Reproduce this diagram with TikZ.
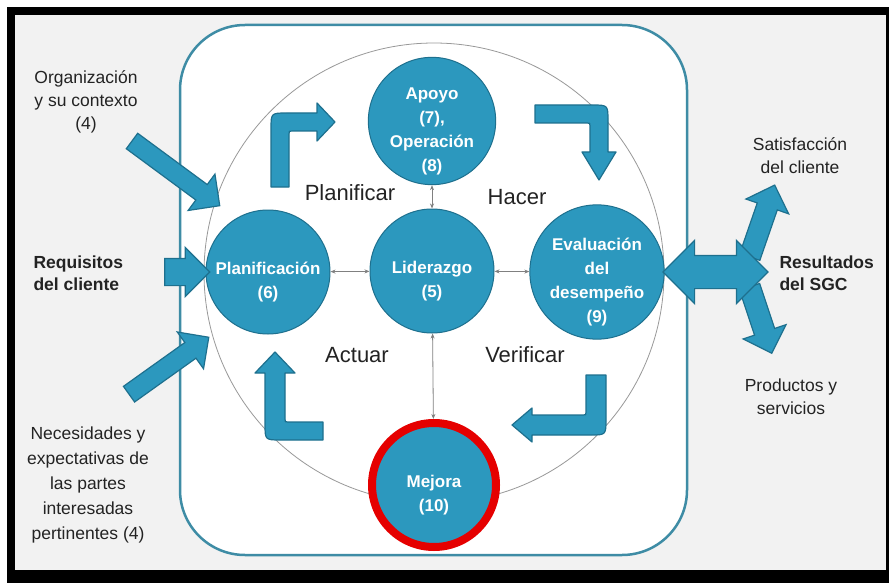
\documentclass[tikz,border=0pt]{standalone}
\usepackage{fontspec}
\setmainfont{Liberation Sans}
\usetikzlibrary{positioning,shapes.arrows,arrows.meta}

\definecolor{pdca}{RGB}{44,152,190}
\definecolor{pdcaedge}{RGB}{30,112,142}
\definecolor{boxline}{RGB}{62,140,165}
\definecolor{paper}{RGB}{242,242,242}
\definecolor{ink}{RGB}{35,35,35}

\newcommand{\stagetext}[1]{\raisebox{-10pt}[\height][\depth]{\begin{tabular}{@{}c@{}}#1\end{tabular}}}

\tikzset{
  stage/.style={draw=pdcaedge, line width=1pt, circle, fill=pdca, minimum size=124pt, inner sep=0pt, text=white, font=\bfseries\fontsize{17}{24}\selectfont},
  link/.style={draw=gray, line width=0.8pt, {Stealth[length=5pt,width=4pt]}-{Stealth[length=5pt,width=4pt]}},
  bent/.style={fill=pdca, draw=pdcaedge, line width=1.2pt, line join=round},
  flow/.style={single arrow, fill=pdca, draw=pdcaedge, line width=1.2pt, inner xsep=0pt},
  side/.style={text=ink, align=center, font=\fontsize{17.5}{23}\selectfont},
  sidebold/.style={text=ink, align=left, font=\bfseries\fontsize{17.5}{22}\selectfont},
  phase/.style={text=ink, font=\fontsize{22}{26}\selectfont}
}

\begin{document}
\begin{tikzpicture}[x=1pt, y=-1pt]
\useasboundingbox (0,0) rectangle (889,583);
\fill[white] (0,0) rectangle (889,583);
\fill[black] (7,7) rectangle (889,583);
\fill[paper] (15,15) rectangle (886,570);

\draw[draw=boxline, line width=2.5pt, fill=white, rounded corners=65pt] (180,25) rectangle (687,555);
\draw[gray!80, line width=0.8pt] (434,273) circle[radius=230];

% bent arrows of the cycle
\filldraw[bent] (271,187) -- (271,129) .. controls (271,113) .. (287,113) -- (317,113) -- (317,103) -- (335,122) -- (317,141) -- (317,131) -- (292,131) .. controls (289,131) .. (289,134) -- (289,187) -- cycle;
\filldraw[bent] (535,105) -- (592,105) .. controls (608,105) .. (608,121) -- (608,152) -- (616,152) -- (599,180) -- (582,152) -- (590,152) -- (590,126) .. controls (590,123) .. (587,123) -- (535,123) -- cycle;
\filldraw[bent] (586,375) -- (606,375) -- (606,419) .. controls (606,435) .. (590,435) -- (532,435) -- (532,442) -- (512,425) -- (532,408) -- (532,415) -- (583,415) .. controls (586,415) .. (586,412) -- cycle;
\filldraw[bent] (323,422) -- (288,422) .. controls (285,422) .. (285,419) -- (285,373) -- (295,373) -- (275,352) -- (255,373) -- (265,373) -- (265,424) .. controls (265,440) .. (281,440) -- (323,440) -- cycle;

\node[stage] (apoyo) at (432,121) {\stagetext{Apoyo\\(7),\\Operación\\(8)}};
\node[stage] (lider) at (432,271) {\stagetext{Liderazgo\\(5)}};
\node[stage] (plan) at (268,272) {\stagetext{Planificación\\(6)}};
\node[stage] (eval) at (597,272) {\stagetext{Evaluación\\del\\desempeño\\(9)}};
\node[stage, draw=red!90!black, line width=8pt] (mejora) at (434,485) {\stagetext{Mejora\\(10)}};

\draw[link] (plan) -- (lider);
\draw[link] (lider) -- (eval);
\draw[link] (apoyo) -- (lider);
\draw[link] (lider) -- (mejora);

\node[phase] (planificar) at (350,193) {Planificar};
\node[phase] (hacer) at (517,197) {Hacer};
\node[phase] (actuar) at (357,355) {Actuar};
\node[phase] (verificar) at (525,355) {Verificar};

% entradas
\node[flow, rotate=-36.4, inner ysep=9pt, minimum height=109pt, single arrow head extend=13pt] (incontexto) at (172,170.5) {};
\node[flow, inner ysep=13pt, minimum height=45pt, single arrow head extend=11pt] (inrequisitos) at (180.5,272) {};
\node[flow, rotate=35.5, inner ysep=9pt, minimum height=98pt, single arrow head extend=13pt] (inpartes) at (165,368.5) {};

% salidas
\node[flow, rotate=70.9, inner ysep=10pt, minimum height=76pt, single arrow head extend=12pt] (outsatisf) at (760.5,226) {};
\node[flow, rotate=-71.6, inner ysep=10pt, minimum height=70pt, single arrow head extend=12pt] (outproductos) at (759,315) {};
\node[double arrow, fill=pdca, draw=pdcaedge, line width=1.2pt, inner xsep=0pt, inner ysep=16pt, minimum height=105pt, double arrow head extend=15pt] (outsgc) at (715.5,272) {};

\node[side] (contexto) at (86,102) {Organización\\y su contexto\\(4)};
\node[sidebold, anchor=west] (requisitos) at (30,273) {Requisitos\\del cliente};
\node[side, font=\fontsize{17.5}{25}\selectfont] (partes) at (88,485) {Necesidades y\\expectativas de\\las partes\\interesadas\\pertinentes (4)};
\node[side] (satisf) at (800,156) {Satisfacción\\del cliente};
\node[sidebold, anchor=west] (sgc) at (776,273) {Resultados\\del SGC};
\node[side] (productos) at (791,397) {Productos y\\servicios};
\end{tikzpicture}
\end{document}
